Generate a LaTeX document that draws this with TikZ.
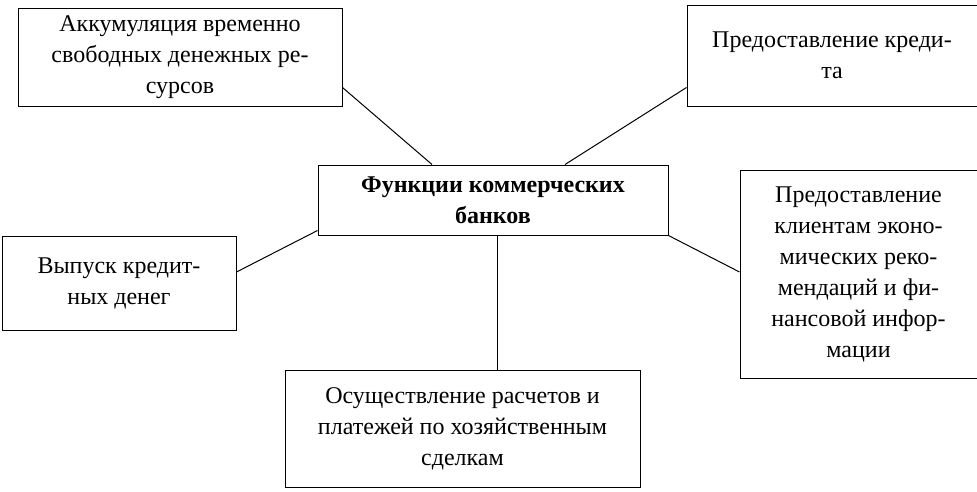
\documentclass[tikz,border=0pt]{standalone}
\usepackage{fontspec}
\setmainfont{Liberation Serif}
\begin{document}
\begin{tikzpicture}[x=1pt,y=-1pt,
  box/.style={draw,line width=1pt,align=center,inner sep=0pt,font=\fontsize{24}{31}\selectfont},
  link/.style={line width=1pt}]
\useasboundingbox (0,0) rectangle (977,491);
\node[box,minimum width=324,minimum height=98] (tl) at (180,57) {Аккумуляция временно\\свободных денежных ре-\\сурсов};
\node[box,minimum width=290,minimum height=101] (tr) at (832,55.5) {Предоставление креди-\\та};
\node[box,minimum width=350,minimum height=70,font=\fontsize{24}{31}\selectfont\bfseries] (c) at (493,200) {Функции коммерческих\\банков};
\node[box,minimum width=234,minimum height=94] (l) at (119,283) {Выпуск кредит-\\ных денег};
\node[box,minimum width=237,minimum height=208] (r) at (858.5,274) {Предоставление\\клиентам эконо-\\мических реко-\\мендаций и фи-\\нансовой инфор-\\мации};
\node[box,minimum width=355,minimum height=117] (b) at (462.5,428.5) {Осуществление расчетов и\\платежей по хозяйственным\\сделкам};
\draw[link] ([yshift=19pt]tl.south east) -- ([xshift=-61pt]c.north);
\draw[link] ([yshift=19pt]tr.south west) -- ([xshift=72pt]c.north);
\draw[link] ([yshift=11pt]l.east) -- ([yshift=5pt]c.south west);
\draw[link] (c.south east) -- ([yshift=2pt]r.west);
\draw[link] ([xshift=4pt]c.south) -- ([xshift=34.5pt]b.north);
\end{tikzpicture}
\end{document}
